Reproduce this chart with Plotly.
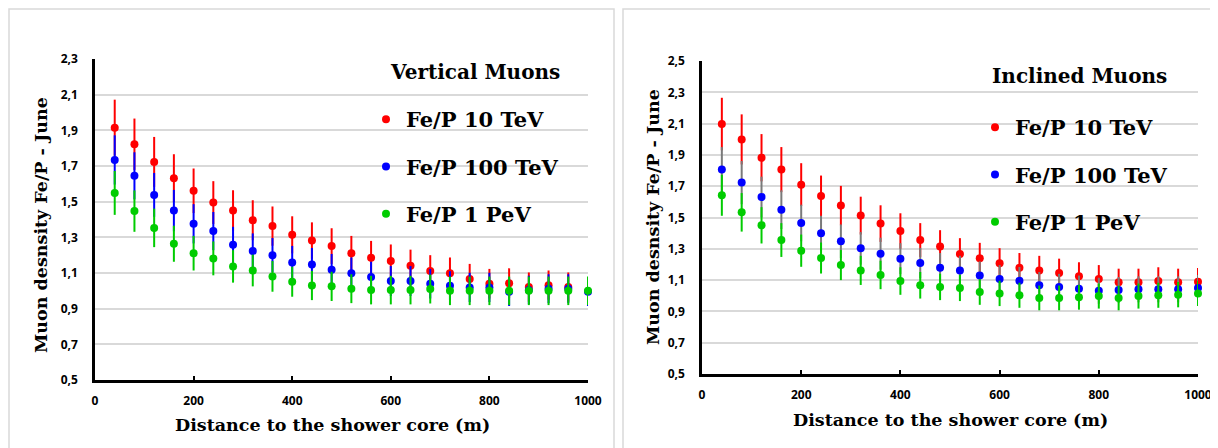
import plotly.graph_objects as go

# page body keeps a default 8px margin, so the figure is drawn 8px in from the window edge
OFF = 8
W, H = 1218 - OFF, 448 - OFF

distance = [40, 80, 120, 160, 200, 240, 280, 320, 360, 400, 440, 480, 520,
            560, 600, 640, 680, 720, 760, 800, 840, 880, 920, 960, 1000]

series_names = ["Fe/P 10 TeV", "Fe/P 100 TeV", "Fe/P 1 PeV"]

# Vertical muons (left panel)
vert_10tev = [1.915, 1.822, 1.723, 1.632, 1.561, 1.495, 1.450, 1.396, 1.363, 1.314,
              1.282, 1.251, 1.211, 1.185, 1.167, 1.140, 1.111, 1.099, 1.066, 1.040,
              1.043, 1.021, 1.032, 1.021, None]
vert_10tev_err = [0.157, 0.144, 0.140, 0.134, 0.125, 0.120, 0.114, 0.112, 0.110, 0.104,
                  0.102, 0.100, 0.097, 0.095, 0.093, 0.091, 0.089, 0.088, 0.085, 0.083,
                  0.083, 0.082, 0.082, 0.082, 0.0]
vert_100tev = [1.734, 1.645, 1.538, 1.450, 1.376, 1.335, 1.258, 1.224, 1.200, 1.159,
               1.148, 1.118, 1.099, 1.077, 1.055, 1.055, 1.040, 1.028, 1.019, 1.019,
               0.995, 1.005, 1.012, 1.012, 0.995]
vert_100tev_err = [0.138, 0.132, 0.123, 0.116, 0.110, 0.107, 0.101, 0.098, 0.096, 0.093,
                   0.092, 0.089, 0.088, 0.086, 0.084, 0.084, 0.083, 0.082, 0.082, 0.082,
                   0.080, 0.080, 0.081, 0.081, 0.080]
vert_1pev = [1.549, 1.447, 1.353, 1.264, 1.211, 1.182, 1.137, 1.114, 1.081, 1.051,
             1.030, 1.025, 1.012, 1.004, 1.004, 1.004, 1.010, 1.000, 1.000, 1.000,
             1.000, 1.000, 1.000, 1.000, 1.000]
vert_1pev_err = [0.123, 0.116, 0.108, 0.101, 0.097, 0.095, 0.091, 0.089, 0.086, 0.084,
                 0.082, 0.082, 0.081, 0.080, 0.080, 0.080, 0.081, 0.080, 0.080, 0.080,
                 0.080, 0.080, 0.080, 0.080, 0.080]

# Inclined muons (right panel)
incl_10tev = [2.097, 1.999, 1.882, 1.806, 1.710, 1.637, 1.576, 1.512, 1.461, 1.414,
              1.356, 1.314, 1.267, 1.239, 1.207, 1.179, 1.162, 1.145, 1.124, 1.107,
              1.086, 1.086, 1.094, 1.086, 1.090]
incl_10tev_err = [0.168, 0.160, 0.151, 0.144, 0.137, 0.131, 0.126, 0.121, 0.117, 0.113,
                  0.108, 0.105, 0.101, 0.099, 0.097, 0.094, 0.093, 0.092, 0.090, 0.089,
                  0.087, 0.087, 0.088, 0.087, 0.087]
incl_100tev = [1.806, 1.723, 1.631, 1.550, 1.465, 1.399, 1.348, 1.303, 1.269, 1.237,
               1.209, 1.179, 1.162, 1.130, 1.107, 1.096, 1.067, 1.056, 1.045, 1.032,
               1.037, 1.041, 1.041, 1.041, 1.049]
incl_100tev_err = [0.144, 0.138, 0.130, 0.124, 0.117, 0.112, 0.108, 0.104, 0.102, 0.099,
                   0.097, 0.094, 0.093, 0.090, 0.089, 0.088, 0.085, 0.084, 0.084, 0.083,
                   0.083, 0.083, 0.083, 0.083, 0.084]
incl_1pev = [1.642, 1.533, 1.450, 1.356, 1.288, 1.241, 1.196, 1.162, 1.133, 1.094,
             1.067, 1.056, 1.050, 1.024, 1.015, 1.003, 0.986, 0.986, 0.990, 0.998,
             0.986, 0.998, 1.003, 1.007, 1.015]
incl_1pev_err = [0.131, 0.123, 0.116, 0.108, 0.103, 0.099, 0.096, 0.093, 0.091, 0.088,
                 0.085, 0.084, 0.084, 0.082, 0.081, 0.080, 0.079, 0.079, 0.079, 0.080,
                 0.079, 0.080, 0.080, 0.081, 0.081]

x_ticks = [0, 200, 400, 600, 800, 1000]

RED, BLUE, GREEN, GRAY = "#ff0000", "#0000ff", "#00cc00", "#7a7a7a"
SERIF = "DejaVu Serif, serif"
SANS = "Open Sans"


def px_x(p):
    return (p - OFF) / W


def px_y(p):
    return 1 - (p - OFF) / H


fig = go.Figure()

left = [(vert_10tev, vert_10tev_err, RED, RED),
        (vert_100tev, vert_100tev_err, BLUE, BLUE),
        (vert_1pev, vert_1pev_err, GREEN, GREEN)]
right = [(incl_10tev, incl_10tev_err, RED, RED),
         (incl_100tev, incl_100tev_err, BLUE, GRAY),
         (incl_1pev, incl_1pev_err, GREEN, GREEN)]

for i, (ys, es, c, ec) in enumerate(left):
    fig.add_trace(go.Scatter(
        x=distance, y=ys, mode="markers", name=series_names[i],
        marker=dict(color=c, size=8),
        error_y=dict(type="data", array=es, visible=True, color=ec, thickness=2, width=0),
        xaxis="x", yaxis="y", legend="legend", legendgroup="l%d" % i,
        cliponaxis=False,
    ))
for i, (ys, es, c, ec) in enumerate(right):
    fig.add_trace(go.Scatter(
        x=distance, y=ys, mode="markers", name=series_names[i],
        marker=dict(color=c, size=8),
        error_y=dict(type="data", array=es, visible=True, color=ec, thickness=2, width=0),
        xaxis="x2", yaxis="y2", legend="legend2", legendgroup="r%d" % i,
        cliponaxis=False,
    ))

tickfont = dict(family=SANS, size=12, color="black", weight="bold")

xcommon = dict(range=[0, 1000], tickvals=x_ticks, showgrid=False, zeroline=False,
               showline=True, linecolor="black", linewidth=2.5,
               ticks="inside", ticklen=4, tickwidth=2, tickcolor="black",
               tickfont=tickfont, ticklabelstandoff=8)
ycommon = dict(tick0=0.5, dtick=0.2, tickformat=".1f", showgrid=True,
               gridcolor="#d9d9d9", gridwidth=1.5, zeroline=False,
               showline=True, linecolor="black", linewidth=2.5, ticks="",
               tickfont=tickfont, ticklabelstandoff=12)

legend_font = dict(family=SERIF, size=21, color="black", weight="bold")

fig.update_layout(
    width=W, height=H,
    margin=dict(l=0, r=0, t=0, b=0, autoexpand=False),
    paper_bgcolor="white", plot_bgcolor="white",
    font=dict(family=SERIF),
    separators=", ",
    showlegend=True,
    xaxis=dict(domain=[px_x(95), px_x(588)], anchor="y", **xcommon),
    yaxis=dict(domain=[px_y(380), px_y(59)], anchor="x", range=[0.5, 2.3], **ycommon),
    xaxis2=dict(domain=[px_x(702), px_x(1198)], anchor="y2", **xcommon),
    yaxis2=dict(domain=[px_y(374), px_y(61)], anchor="x2", range=[0.5, 2.5], **ycommon),
    legend=dict(x=px_x(366), y=px_y(99), xanchor="left", yanchor="top",
                bgcolor="rgba(0,0,0,0)", tracegroupgap=17, font=legend_font),
    legend2=dict(x=px_x(975), y=px_y(107), xanchor="left", yanchor="top",
                 bgcolor="rgba(0,0,0,0)", tracegroupgap=17, font=legend_font),
)

title_font = dict(family=SERIF, size=20, color="black", weight="bold")
axis_font = dict(family=SERIF, size=17.5, color="black", weight="bold")

annotations = [
    dict(text="Vertical Muons", x=px_x(475), y=px_y(72), font=title_font),
    dict(text="Inclined Muons", x=px_x(1079), y=px_y(76), font=title_font),
    dict(text="Muon desnsity Fe/P - June", x=px_x(41), y=px_y(225), font=axis_font, textangle=-90),
    dict(text="Muon desnsity Fe/P - June", x=px_x(653), y=px_y(217), font=axis_font, textangle=-90),
    dict(text="Distance to the shower core (m)", x=px_x(332), y=px_y(425), font=axis_font),
    dict(text="Distance to the shower core (m)", x=px_x(950), y=px_y(420), font=axis_font),
]
for a in annotations:
    a.update(xref="paper", yref="paper", showarrow=False, xanchor="center", yanchor="middle")
fig.update_layout(annotations=annotations)

fig.update_layout(shapes=[
    dict(type="rect", xref="paper", yref="paper", x0=px_x(9), x1=px_x(614),
         y0=-0.05, y1=px_y(9), line=dict(color="#d9d9d9", width=1.5), layer="below"),
    dict(type="rect", xref="paper", yref="paper", x0=px_x(623), x1=1.05,
         y0=-0.05, y1=px_y(9), line=dict(color="#d9d9d9", width=1.5), layer="below"),
])

fig.write_html("out.html")
